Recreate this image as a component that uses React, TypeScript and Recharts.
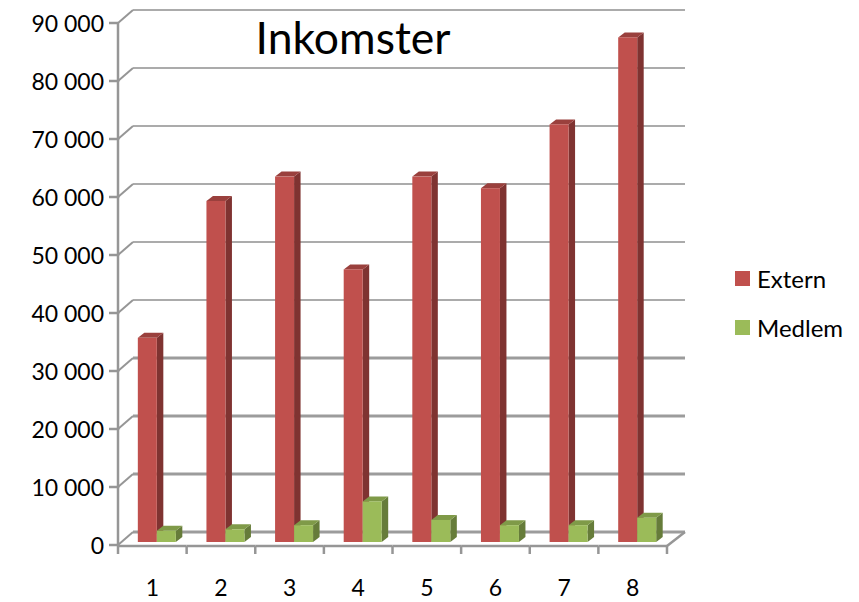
import { BarChart, Bar, XAxis, YAxis, CartesianGrid, Legend } from 'recharts';

const categories = ['1', '2', '3', '4', '5', '6', '7', '8'];
const extern = [35200, 58800, 63000, 47000, 63000, 61000, 72000, 87000];
const medlem = [1950, 2200, 2900, 7000, 3800, 2900, 2900, 4200];
const yTicks = [0, 10000, 20000, 30000, 40000, 50000, 60000, 70000, 80000, 90000];

const chartData = categories.map((name, i) => ({ name, Extern: extern[i], Medlem: medlem[i] }));

const FONT = 'Lato, Carlito, sans-serif';
const AXIS = '#969696';
const LINE_SHIFT_X = 15;
const WALL_SHIFT_Y = -10;
const FRONT_SHIFT_Y = 3;
const STEP_Y = 58;
const BAND = 68.6;

const Bar3D = (props: any) => {
  const { x, y, width, height, fill, side, top } = props;
  const d = 6.5;
  const t = 5;
  const bx = x + 5;
  return (
    <g>
      <path d={`M${bx + width},${y} l${d},${-t} V${y + height - t} l${-d},${t} Z`} fill={side} />
      <path d={`M${bx},${y} l${d},${-t} H${bx + width + d} l${-d},${t} Z`} fill={top} />
      <rect x={bx} y={y} width={width} height={height} fill={fill} />
    </g>
  );
};

const GridLine = (props: any) => {
  const { x1, x2, y1 } = props;
  const y = y1 + WALL_SHIFT_Y;
  const lower = y > 315;
  return (
    <line
      x1={x1 + LINE_SHIFT_X}
      x2={x2 + 18}
      y1={y}
      y2={y}
      stroke={lower ? '#9c9c9c' : '#ababab'}
      strokeWidth={lower ? 3 : 2}
    />
  );
};

const YTick = (props: any) => {
  const { y, payload } = props;
  const axisX = 118;
  const fy = y + FRONT_SHIFT_Y;
  const label = String(payload.value).replace(/\B(?=(\d{3})+$)/g, ' ');
  return (
    <g>
      {payload.value < 90000 && (
        <line x1={axisX} x2={axisX} y1={fy + 1} y2={fy - STEP_Y - 1} stroke={AXIS} strokeWidth={2.5} />
      )}
      <line x1={axisX - 9} x2={axisX} y1={fy} y2={fy} stroke={AXIS} strokeWidth={2.5} />
      <line x1={axisX} x2={axisX + LINE_SHIFT_X} y1={fy} y2={y + WALL_SHIFT_Y} stroke={AXIS} strokeWidth={2} />
      <text x={104} y={fy} dy={8.5} textAnchor="end" fontSize={23} fontFamily={FONT} fill="#000">
        {label}
      </text>
    </g>
  );
};

const XTick = (props: any) => {
  const { x, y, payload, index } = props;
  const ly = 546;
  const left = x - BAND / 2;
  const right = x + BAND / 2;
  return (
    <g>
      <line x1={left} x2={right} y1={ly} y2={ly} stroke={AXIS} strokeWidth={2.5} />
      <line x1={left} x2={left} y1={ly} y2={ly + 8} stroke={AXIS} strokeWidth={2.5} />
      {index === categories.length - 1 && (
        <g>
          <line x1={right} x2={right} y1={ly} y2={ly + 8} stroke={AXIS} strokeWidth={2.5} />
          <line x1={right} x2={right + 18} y1={ly} y2={532} stroke={AXIS} strokeWidth={2.5} />
        </g>
      )}
      <text x={x} y={y} textAnchor="middle" fontSize={23} fontFamily={FONT} fill="#000">
        {payload.value}
      </text>
    </g>
  );
};

const LegendBox = () => (
  <div style={{ fontFamily: FONT, fontSize: 24, color: '#000' }}>
    {[
      { name: 'Extern', color: '#C0504D' },
      { name: 'Medlem', color: '#9BBB59' },
    ].map((item) => (
      <div key={item.name} style={{ display: 'flex', alignItems: 'center', height: 49 }}>
        <span style={{ width: 15, height: 15, flexShrink: 0, background: item.color, marginRight: 7 }} />
        {item.name}
      </div>
    ))}
  </div>
);

export default function App() {
  return (
    <div style={{ position: 'absolute', left: 0, top: 0, background: '#fff' }}>
      <BarChart
        width={859}
        height={602}
        data={chartData}
        margin={{ top: 20, right: 68, left: 0, bottom: 0 }}
        barGap={0}
        barCategoryGap="21.6%"
      >
        <CartesianGrid vertical={false} horizontal={GridLine} />
        <XAxis
          dataKey="name"
          axisLine={false}
          tickLine={false}
          height={60}
          tickMargin={0}
          interval={0}
          tick={(p: any) => <XTick {...p} y={596} />}
        />
        <YAxis
          width={118}
          domain={[0, 90000]}
          ticks={yTicks}
          axisLine={false}
          tickLine={false}
          interval={0}
          tick={YTick}
        />
        <Legend
          verticalAlign="top"
          align="right"
          layout="vertical"
          content={LegendBox}
          wrapperStyle={{ position: 'absolute', left: 735, top: 254, width: 124 }}
        />
        <Bar
          dataKey="Extern"
          fill="#C0504D"
          isAnimationActive={false}
          shape={(p: any) => <Bar3D {...p} side="#7F3331" top="#9A403D" />}
        />
        <Bar
          dataKey="Medlem"
          fill="#9BBB59"
          isAnimationActive={false}
          shape={(p: any) => <Bar3D {...p} side="#667C3A" top="#7F9A48" />}
        />
        <text x={353} y={54} textAnchor="middle" fontSize={44.5} fontFamily={FONT} fill="#000">
          Inkomster
        </text>
      </BarChart>
    </div>
  );
}
